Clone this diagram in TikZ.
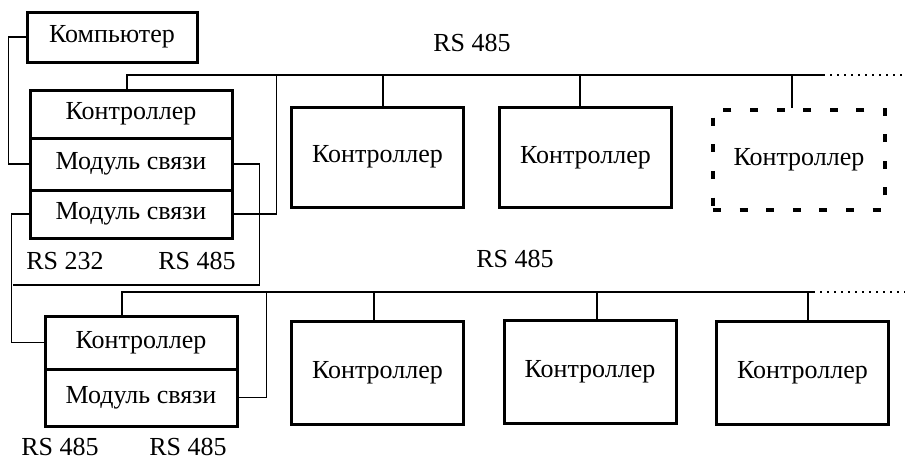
\documentclass[tikz,border=0pt]{standalone}
\usepackage{fontspec}
\setmainfont{Liberation Serif}
\usetikzlibrary{calc}

\begin{document}
\begin{tikzpicture}[x=0.5pt, y=-0.5pt, font=\fontsize{13}{15}\selectfont,
    blk/.style={draw, line width=1.5pt, inner sep=0pt},
    ctl/.style={blk, minimum width=86pt, minimum height=50pt},
    wire/.style={line width=0.7pt},
    tail/.style={line width=0.7pt, dash pattern=on 0.8pt off 2.7pt}]
    \useasboundingbox (0,0) rectangle (905,461);

    \node[blk, minimum width=85pt, minimum height=25pt] (comp) at (112,37) {Компьютер};

    \node[blk, minimum width=101pt, minimum height=24pt] (ctrlA) at (131,114) {Контроллер};
    \node[blk, minimum width=101pt, minimum height=26pt] (modA1) at (131,164) {Модуль связи};
    \node[blk, minimum width=101pt, minimum height=24pt] (modA2) at (131,214) {Модуль связи};

    \node[blk, minimum width=96pt, minimum height=26.5pt] (ctrlB) at (141,342.5) {Контроллер};
    \node[blk, minimum width=96pt, minimum height=28.5pt] (modB) at (141,397.5) {Модуль связи};

    \node[ctl] (c1) at (377.5,157) {Контроллер};
    \node[ctl] (c2) at (585.5,157.5) {Контроллер};
    \node[ctl, line width=2pt, dash pattern=on 4pt off 9.3pt] (c3) at (799,159.5) {Контроллер};

    \node[ctl, minimum height=51.5pt] (d1) at (377.5,373) {Контроллер};
    \node[ctl, minimum height=51.5pt] (d2) at (590,371.5) {Контроллер};
    \node[ctl, minimum height=51.5pt] (d3) at (802.5,372.5) {Контроллер};

    \node (rs232) at (65,261) {RS 232};
    \node (rsA) at (197,261) {RS 485};
    \node (rsB1) at (60,447) {RS 485};
    \node (rsB2) at (188,447) {RS 485};
    \node (busAlbl) at (472,43) {RS 485};
    \node (busBlbl) at (515,259) {RS 485};

    \coordinate (busA) at (823,75);
    \coordinate (busAend) at (905,75);
    \coordinate (busB) at (813,292);
    \coordinate (busBend) at (905,292);
    \coordinate (tap) at (13,285);

    \draw[wire] ($(ctrlA.north)+(-4,0)$) |- (busA);
    \foreach \n/\dx in {c1/5.5, c2/-5.5, c3/-7}
        \draw[wire] ($(\n.north)+(\dx,0)$) -- ($(\n.north |- busA)+(\dx,0)$);
    \draw[tail] (busA) -- (busAend);

    \draw[wire] (comp.west) -- ++(-17,0) |- (modA1.west);
    \draw[wire] (modA2.east) -- ++(43,0) coordinate (upA) -- (upA |- busA);
    \draw[wire] (modA1.east) -- ++(26,0) |- (tap);
    \draw[wire] (modA2.west) -- ++(-17,0) |- (ctrlB.west);

    \draw[wire] ($(ctrlB.north)+(-19,0)$) |- (busB);
    \foreach \n/\dx in {d1/-3.5, d2/7, d3/5.5}
        \draw[wire] ($(\n.north)+(\dx,0)$) -- ($(\n.north |- busB)+(\dx,0)$);
    \draw[tail] (busB) -- (busBend);
    \draw[wire] (modB.east) -- ++(28,0) coordinate (upB) -- (upB |- busB);
  \end{tikzpicture}
\end{document}
